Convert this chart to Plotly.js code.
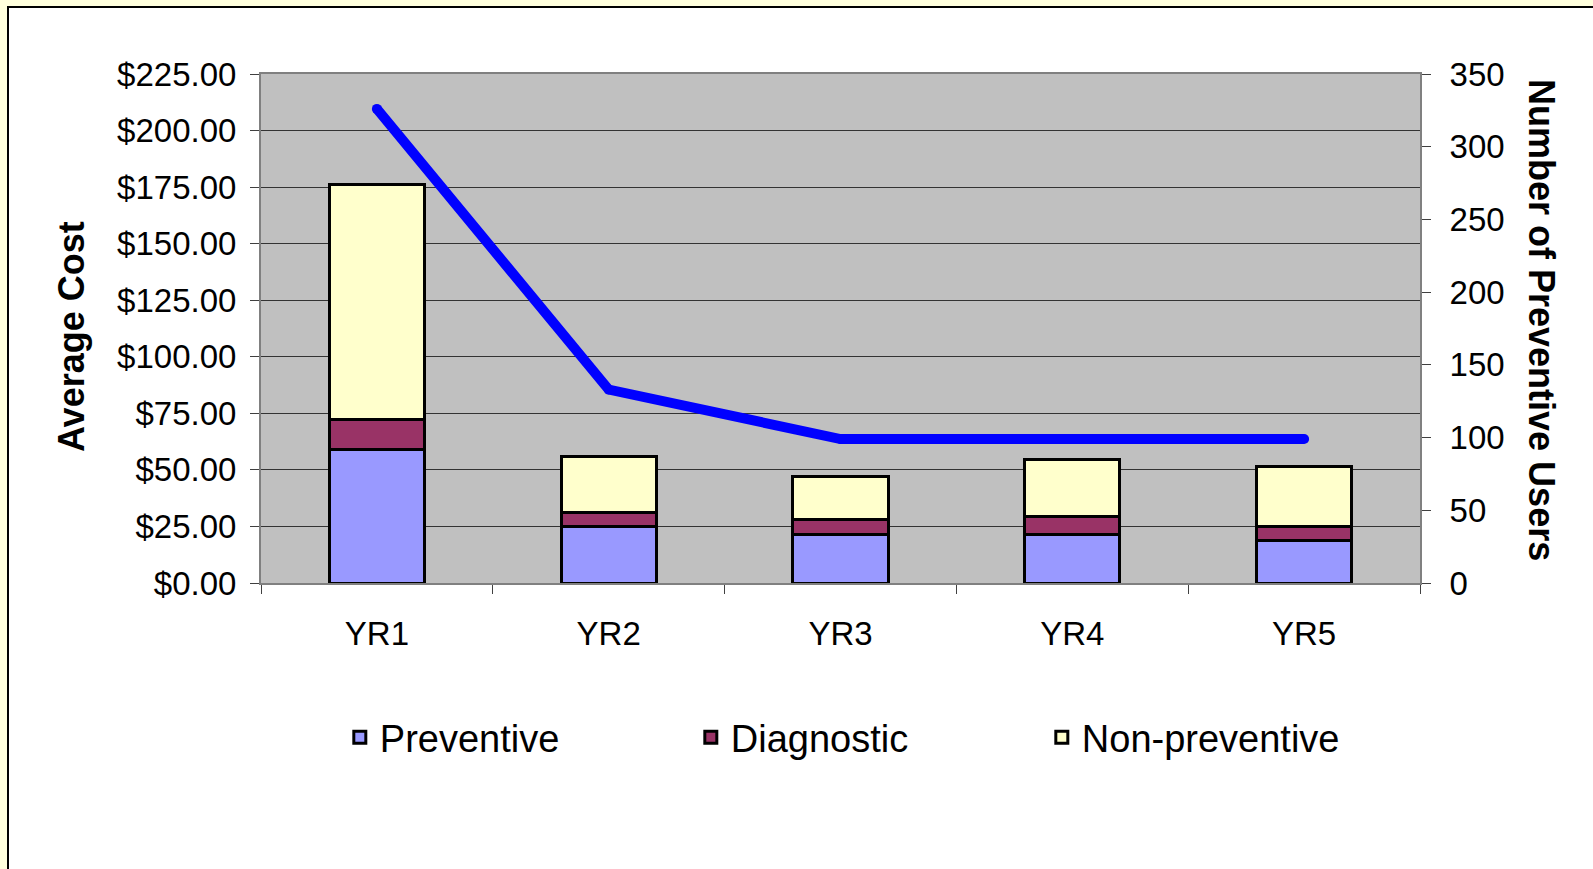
<!DOCTYPE html>
<html>
<head>
<meta charset="utf-8">
<script src="https://cdn.plot.ly/plotly-3.0.1.min.js"></script>
<style>
  html, body { margin: 0; padding: 0; background: #FFFFDD; overflow: hidden; width: 1593px; height: 869px; }
  #frame { position: absolute; left: 7px; top: 6px; width: 1600px; height: 900px; border: 2px solid #000; background: #fff; overflow: hidden; }
  #chart { position: absolute; left: 0; top: 0; width: 1584px; height: 861px; }
</style>
</head>
<body>
<div id="frame"><div id="chart"></div></div>
<script>
const categories = ['YR1', 'YR2', 'YR3', 'YR4', 'YR5'];
const preventive = [58.8, 24.9, 21.5, 21.5, 18.6];
const diagnostic = [13.3, 6.2, 6.4, 7.8, 6.3];
const nonPreventive = [103.9, 25.0, 19.4, 25.1, 26.8];
const preventiveUsers = [326, 133, 99, 99, 99];
const costTicks = [0, 25, 50, 75, 100, 125, 150, 175, 200, 225];
const userTicks = [0, 50, 100, 150, 200, 250, 300, 350];

const font = 'Liberation Sans, Arial, sans-serif';
const barLine = { color: '#000000', width: 3 };

const traces = [
  { type: 'bar', name: 'Preventive', x: categories, y: preventive,
    marker: { color: '#9999FF', line: barLine }, hoverinfo: 'x+y+name' },
  { type: 'bar', name: 'Diagnostic', x: categories, y: diagnostic,
    marker: { color: '#993366', line: barLine }, hoverinfo: 'x+y+name' },
  { type: 'bar', name: 'Non-preventive', x: categories, y: nonPreventive,
    marker: { color: '#FFFFCC', line: barLine }, hoverinfo: 'x+y+name' },
  { type: 'scatter', mode: 'lines+markers', name: 'Number of Preventive Users',
    x: categories, y: preventiveUsers, yaxis: 'y2', showlegend: false,
    line: { color: '#0000FF', width: 10 },
    marker: { color: '#0000FF', size: 10 } }
];

const layout = {
  width: 1584, height: 861,
  margin: { l: 252, r: 173, t: 66, b: 286, pad: 0 },
  paper_bgcolor: '#FFFFFF',
  plot_bgcolor: '#C0C0C0',
  barmode: 'stack',
  bargap: 0.59,
  font: { family: font, color: '#000000', size: 33 },
  showlegend: true,
  legend: {
    orientation: 'h', x: 0.068, xanchor: 'left', y: -0.3035, yanchor: 'middle',
    traceorder: 'normal', font: { family: font, size: 38, color: '#000' },
    entrywidth: 306, entrywidthmode: 'pixels', bgcolor: 'rgba(0,0,0,0)'
  },
  xaxis: {
    type: 'category', tickson: 'boundaries', ticks: 'outside', ticklen: 9,
    tickcolor: '#404040', tickwidth: 1,
    showline: true, linecolor: '#808080', linewidth: 2, mirror: true,
    showgrid: false, ticklabelstandoff: 20,
    tickfont: { family: font, size: 33 }
  },
  yaxis: {
    range: [0, 225], tickvals: costTicks, tickformat: '$.2f',
    ticks: 'outside', ticklen: 9, tickcolor: '#404040', tickwidth: 1,
    showline: true, linecolor: '#808080', linewidth: 2,
    showgrid: true, gridcolor: '#333333', gridwidth: 1,
    zeroline: false, ticklabelstandoff: 7,
    tickfont: { family: font, size: 33 }
  },
  yaxis2: {
    overlaying: 'y', side: 'right', range: [0, 350], tickvals: userTicks,
    ticks: 'outside', ticklen: 9, tickcolor: '#404040', tickwidth: 1,
    showline: true, linecolor: '#808080', linewidth: 2,
    showgrid: false, zeroline: false, ticklabelstandoff: 12,
    tickfont: { family: font, size: 33 }
  },
  annotations: [
    { text: '<b>Average Cost</b>', xref: 'paper', yref: 'paper', x: -0.1639, y: 0.4833,
      xanchor: 'center', yanchor: 'middle', textangle: -90, showarrow: false,
      font: { family: font, size: 36, color: '#000' } },
    { text: '<b>Number of Preventive Users</b>', xref: 'paper', yref: 'paper', x: 1.1044, y: 0.5167,
      xanchor: 'center', yanchor: 'middle', textangle: 90, showarrow: false,
      font: { family: font, size: 36, color: '#000' } }
  ]
};

Plotly.newPlot('chart', traces, layout, { displayModeBar: false, staticPlot: true });
</script>
</body>
</html>
